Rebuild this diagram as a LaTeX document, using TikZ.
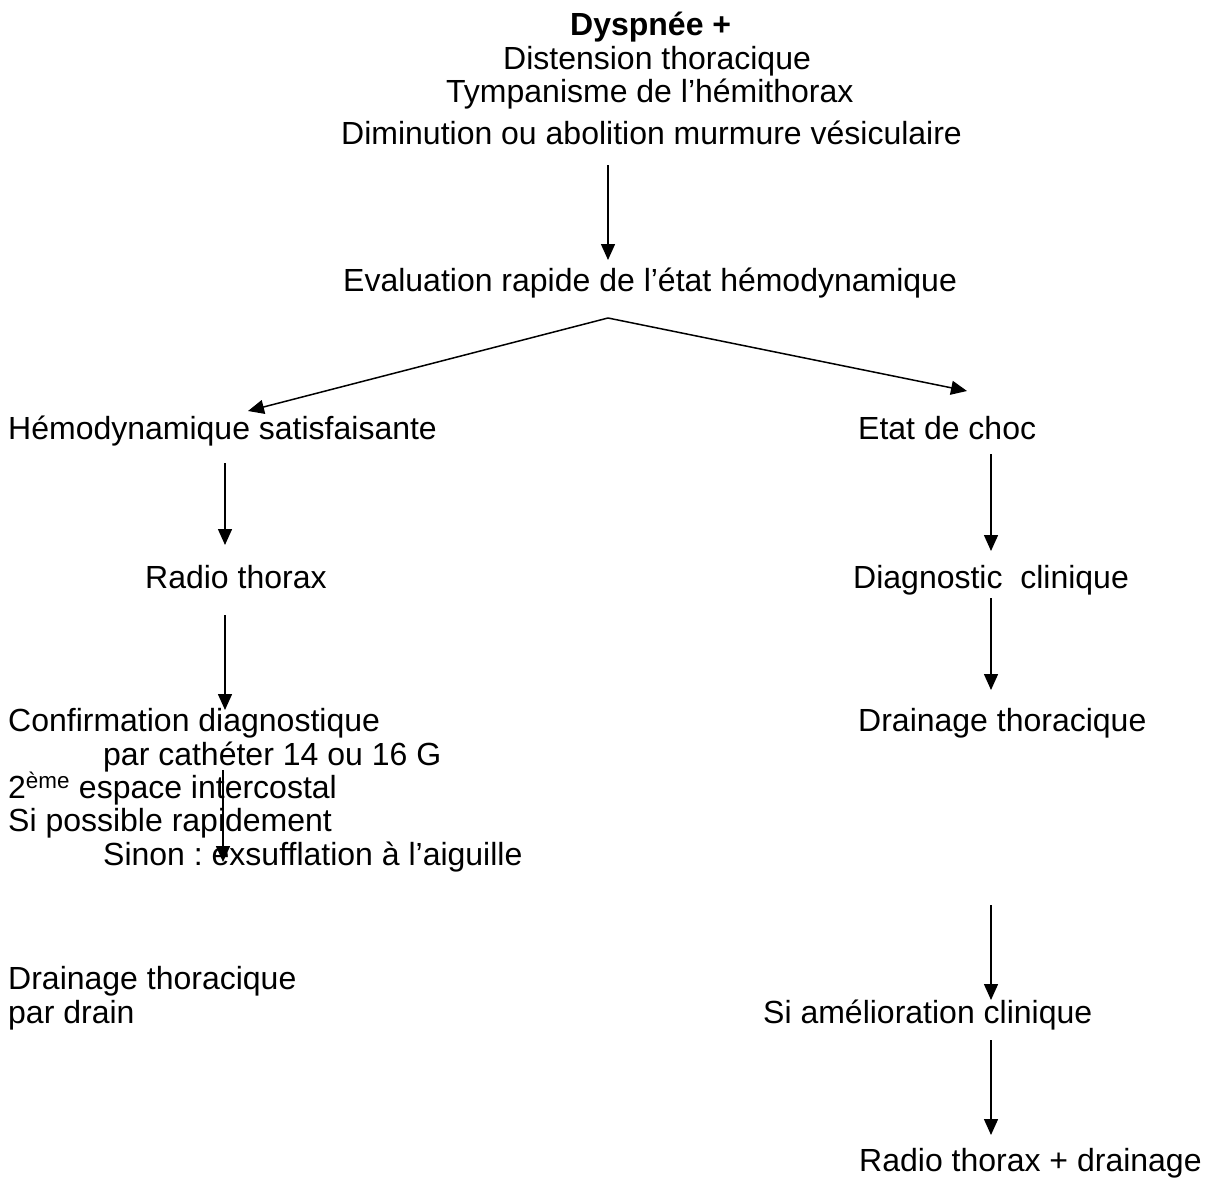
\documentclass[tikz,border=0pt]{standalone}
\usepackage{fontspec}
\setmainfont{Liberation Sans}
\usetikzlibrary{arrows.meta}
\frenchspacing
\begin{document}
\begin{tikzpicture}[x=1pt,y=-1pt,
  txt/.style={anchor=base west,inner sep=0pt,font=\fontsize{32}{38}\selectfont\frenchspacing},
  arr/.style={line width=1.5pt,-{Triangle[length=16pt,width=14pt]}}]
\useasboundingbox (0,0) rectangle (1207,1180);
% texts
\node[txt] (t1) at (570,36) {\textbf{Dyspnée +}};
\node[txt] (t2) at (503,70) {Distension thoracique};
\node[txt] (t3) at (446,103) {Tympanisme de l’hémithorax};
\node[txt] (t4) at (341,144) {Diminution ou abolition murmure vésiculaire};
\node[txt] (ev) at (343,291) {Evaluation rapide de l’état hémodynamique};
\node[txt] (hs) at (8,439) {Hémodynamique satisfaisante};
\node[txt] (ec) at (858,439) {Etat de choc};
\node[txt] (rt) at (145,588) {Radio thorax};
\node[txt] (dc) at (853,588) {Diagnostic\ \ clinique};
\node[txt] (cd) at (8,731) {Confirmation diagnostique};
\node[txt] (pc) at (103,765) {par cathéter 14 ou 16 G};
\node[txt] (es) at (8,798) {2\textsuperscript{ème} espace intercostal};
\node[txt] (sp) at (8,831) {Si possible rapidement};
\node[txt] (sn) at (103,865) {Sinon : exsufflation à l’aiguille};
\node[txt] (dl) at (8,989) {Drainage thoracique};
\node[txt] (pd) at (8,1023) {par drain};
\node[txt] (dr) at (858,731) {Drainage thoracique};
\node[txt] (sa) at (763,1023) {Si amélioration clinique};
\node[txt] (rd) at (859,1171) {Radio thorax + drainage};
% connector coordinates
\coordinate (a1s) at (608,165); \coordinate (a1e) at (608,260);
\coordinate (ap) at (608,318);
\coordinate (bl) at (248,411); \coordinate (br) at (967,391);
\coordinate (l1s) at (225,463); \coordinate (l1e) at (225,545);
\coordinate (l2s) at (225,615); \coordinate (l2e) at (225,710);
\coordinate (l3s) at (223,770); \coordinate (l3e) at (223,862);
\coordinate (r1s) at (991,454); \coordinate (r1e) at (991,551);
\coordinate (r2s) at (991,598); \coordinate (r2e) at (991,690);
\coordinate (r3s) at (991,905); \coordinate (r3e) at (991,1000);
\coordinate (r4s) at (991,1040); \coordinate (r4e) at (991,1135);
% connectors
\draw[arr] (a1s) -- (a1e);
\draw[arr] (ap) -- (bl);
\draw[arr] (ap) -- (br);
\draw[arr] (l1s) -- (l1e);
\draw[arr] (l2s) -- (l2e);
\draw[arr] (l3s) -- (l3e);
\draw[arr] (r1s) -- (r1e);
\draw[arr] (r2s) -- (r2e);
\draw[arr] (r3s) -- (r3e);
\draw[arr] (r4s) -- (r4e);
\end{tikzpicture}
\end{document}
